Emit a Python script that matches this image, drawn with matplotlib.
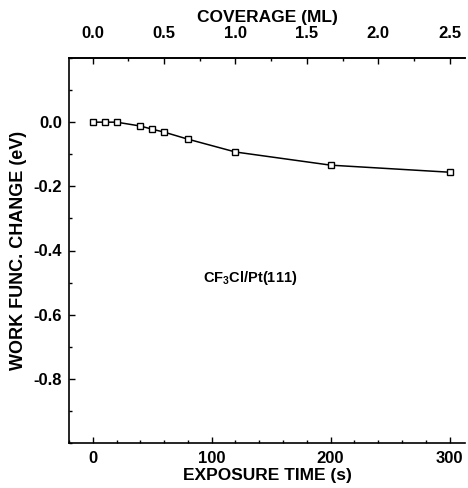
import matplotlib
matplotlib.use("Agg")
import matplotlib.pyplot as plt
import matplotlib.ticker as ticker

# exposure time (s) vs work function change (eV)
exposure = [0, 10, 20, 40, 50, 60, 80, 120, 200, 300]
dphi = [0.0, 0.0, 0.0, -0.012, -0.022, -0.031, -0.053, -0.093, -0.134, -0.156]
y_ticks = [0.0, -0.2, -0.4, -0.6, -0.8]
x_ticks = [0, 100, 200, 300]
cov_ticks = [0.0, 0.5, 1.0, 1.5, 2.0, 2.5]
SEC_PER_ML = 120.0  # 2.5 ML at 300 s

plt.rcParams['font.family'] = ['Liberation Sans', 'DejaVu Sans']
plt.rcParams['font.weight'] = 'bold'
plt.rcParams['axes.unicode_minus'] = False
plt.rcParams['mathtext.fontset'] = 'custom'
plt.rcParams['mathtext.rm'] = 'Liberation Sans:bold'
plt.rcParams['mathtext.bf'] = 'Liberation Sans:bold'

fig = plt.figure(figsize=(4.68, 4.88), dpi=100)
ax = fig.add_axes([69 / 468, 45 / 488, 396 / 468, 385 / 488])

ax.plot(exposure, dphi, color="k", lw=1.1, marker="s", ms=4, mfc="white",
        mec="k", mew=1.0)

ax.set_xlim(-20, 313)
ax.set_ylim(-1.0, 0.2)

ax.xaxis.set_major_locator(ticker.FixedLocator(x_ticks))
ax.xaxis.set_minor_locator(ticker.MultipleLocator(20))
ax.yaxis.set_major_locator(ticker.FixedLocator(y_ticks))
ax.yaxis.set_minor_locator(ticker.MultipleLocator(0.1))
ax.yaxis.set_major_formatter(ticker.FormatStrFormatter('%.1f'))

ax.tick_params(which="both", direction="in", top=False, right=False,
               labelsize=12, width=1.0)
ax.tick_params(which="major", length=4)
ax.tick_params(which="minor", length=2)
ax.tick_params(axis="x", pad=6)
ax.tick_params(axis="y", pad=5)

for side in ["left", "bottom", "top"]:
    ax.spines[side].set_linewidth(1.2)
ax.spines["right"].set_visible(False)

ax.set_xlabel("EXPOSURE TIME (s)", fontsize=12.5, fontweight="bold", labelpad=1)
ax.set_ylabel("WORK FUNC. CHANGE (eV)", fontsize=13, fontweight="bold", labelpad=5)

sec = ax.secondary_xaxis("top", functions=(lambda t: t / SEC_PER_ML,
                                          lambda c: c * SEC_PER_ML))
sec.xaxis.set_major_locator(ticker.FixedLocator(cov_ticks))
sec.xaxis.set_minor_locator(ticker.MultipleLocator(0.25))
sec.xaxis.set_major_formatter(ticker.FormatStrFormatter('%.1f'))
sec.tick_params(which="both", direction="in", labelsize=12, pad=12, width=1.0)
sec.tick_params(which="major", length=4)
sec.tick_params(which="minor", length=2)
sec.spines["top"].set_linewidth(1.2)
sec.set_xlabel("COVERAGE (ML)", fontsize=12.5, fontweight="bold", labelpad=3)

ax.text(132, -0.486, r"CF$_\mathbf{3}$Cl/Pt(111)", fontsize=10.5,
        fontweight="bold", ha="center", va="center")

fig.savefig("out.png", dpi=100)
